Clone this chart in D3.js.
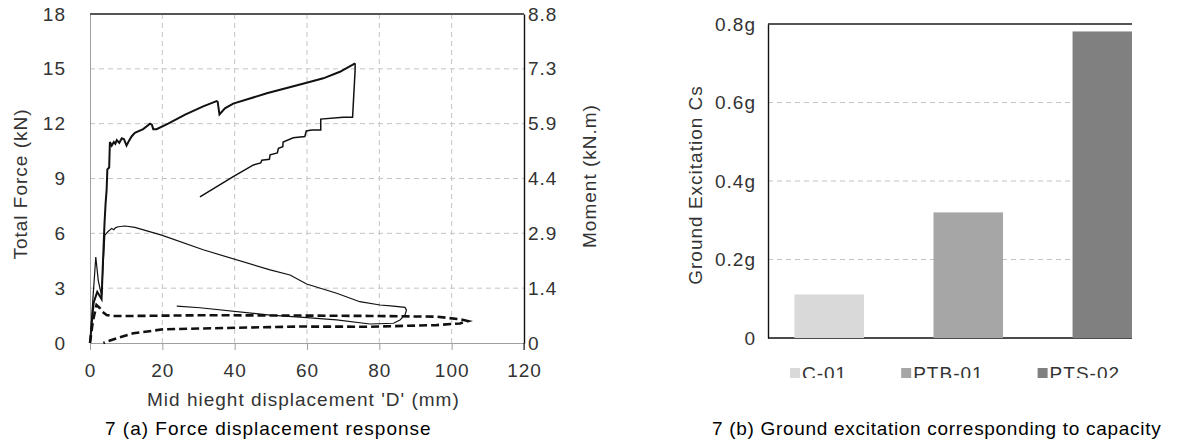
<!DOCTYPE html>
<html>
<head>
<meta charset="utf-8">
<script src="https://cdn.jsdelivr.net/npm/d3@7"></script>
<style>
    body { margin: 0; background: #fff; }
    svg { display: block; font-family: "Liberation Sans", Arial, sans-serif; }
    .lbl { font-size: 19px; letter-spacing: 1px; fill: #333; }
    .cap { font-size: 19px; letter-spacing: 1px; fill: #000; }
</style>
</head>
<body>
<svg id="chart" width="1181" height="445"></svg>
<script>
// ---- Data: 7(a) force displacement response, [displacement mm, force kN] ----
const loadingCurve = [
    [0, 0], [1.0, 2.2], [2.0, 2.8], [3.2, 2.4], [3.5, 4.0], [4.0, 6.5], [4.3, 7.6],
    [4.6, 8.4], [4.8, 9.5], [5.3, 9.6], [5.5, 11.0], [6.0, 10.8], [6.6, 11.0], [7.0, 10.9],
    [7.4, 11.1], [8.1, 10.95], [8.8, 11.2], [9.4, 11.15], [10.1, 10.8], [10.6, 11.0],
    [11.5, 11.3], [12.4, 11.5], [14.7, 11.7], [16.6, 12.0], [17.1, 11.95], [17.5, 11.7],
    [18.4, 11.7], [21.6, 12.0], [26.3, 12.5], [31.3, 12.95], [35.0, 13.24], [35.3, 13.2],
    [35.8, 12.5], [37.3, 12.84], [39.6, 13.1], [48.9, 13.66], [59.9, 14.24], [64.5, 14.48],
    [69.1, 14.84], [73.3, 15.3]
];
const unloadingCurve = [
    [73.3, 15.3], [73.3, 14.9], [72.6, 12.35], [70.0, 12.35], [63.8, 12.25], [63.8, 11.65],
    [61.3, 11.65], [59.8, 11.6], [59.4, 11.3], [56.2, 11.23], [53.4, 11.0], [53.3, 10.74],
    [52.1, 10.65], [51.8, 10.4], [49.8, 10.3], [49.6, 10.05], [47.5, 10.0], [47.2, 9.85],
    [45.2, 9.74], [39.6, 9.1], [30.4, 8.0]
];
const thinCurve = [
    [0, 0], [0.8, 2.4], [1.6, 4.7], [2.3, 3.4], [3.2, 2.6], [3.6, 4.2], [4.1, 5.9],
    [5.0, 6.1], [6.0, 6.27], [6.6, 6.2], [7.0, 6.3], [7.8, 6.36], [9.7, 6.4], [12.4, 6.33],
    [19.8, 5.9], [31.3, 5.1], [49.8, 4.0], [55.3, 3.72], [59.9, 3.23], [68.2, 2.72],
    [74.6, 2.26], [80.2, 2.08], [83.9, 2.02], [87.1, 1.95], [87.5, 1.8], [87.1, 1.53],
    [85.7, 1.26], [83.9, 1.08], [77.4, 1.04], [68.2, 1.26], [59.0, 1.4], [49.8, 1.53],
    [30.4, 1.93], [24.0, 2.02]
];
const dashedCurve = [
    [0, 0], [0.8, 1.2], [1.8, 2.08], [2.8, 1.9], [3.5, 1.7], [4.6, 1.53], [6.0, 1.48],
    [12.4, 1.48], [31.8, 1.52], [60.0, 1.5], [77.4, 1.48], [95.8, 1.44], [102.3, 1.3],
    [104.5, 1.2], [102.3, 1.07], [95.8, 0.98], [77.4, 0.89], [58.0, 0.9], [49.8, 0.87],
    [20.3, 0.75], [12.0, 0.53], [8.0, 0.3], [4.6, 0.07], [3.7, 0]
];
const forceTicks = [0, 3, 6, 9, 12, 15, 18];
const momentLabels = ["0", "1.4", "2.9", "4.4", "5.9", "7.3", "8.8"];
const dispTicks = [0, 20, 40, 60, 80, 100, 120];

// ---- Data: 7(b) ground excitation ----
const specimens = ["C-01", "PTB-01", "PTS-02"];
const excitation = [0.111, 0.32, 0.781];
const barColors = ["#d9d9d9", "#a6a6a6", "#808080"];
const excitationTicks = [0, 0.2, 0.4, 0.6, 0.8];

const svg = d3.select("#chart");

// =================== Left chart ===================
function drawForceChart() {
    const x = d3.scaleLinear().domain([0, 120]).range([90, 524]);
    const y = d3.scaleLinear().domain([0, 18]).range([343, 14]);
    const g = svg.append("g");

    // grid
    g.selectAll(".hgrid").data(forceTicks.slice(1, -1)).enter().append("line")
        .attr("x1", x(0)).attr("x2", x(120))
        .attr("y1", d => y(d)).attr("y2", d => y(d))
        .attr("stroke", "#c4c4c4").attr("stroke-dasharray", "5,4");
    g.selectAll(".vgrid").data(dispTicks.slice(1, -1)).enter().append("line")
        .attr("y1", y(0)).attr("y2", y(18))
        .attr("x1", d => x(d)).attr("x2", d => x(d))
        .attr("stroke", "#c4c4c4").attr("stroke-dasharray", "5,4");

    // bottom axis (gray, ticks pointing down)
    const xAxis = g.append("g").attr("transform", `translate(0,${y(0)})`)
        .call(d3.axisBottom(x).tickValues(dispTicks).tickSize(7).tickSizeOuter(0).tickPadding(14));
    xAxis.select(".domain").attr("stroke", "#a0a0a0");
    xAxis.selectAll(".tick line").attr("stroke", "#a0a0a0");
    xAxis.selectAll("text").attr("class", "lbl").attr("font-size", null).attr("font-family", null).attr("fill", null);

    // left axis
    const yAxis = g.append("g").attr("transform", `translate(${x(0)},0)`)
        .call(d3.axisLeft(y).tickValues(forceTicks).tickSize(0).tickPadding(24));
    yAxis.select(".domain").attr("stroke", "#a0a0a0");
    yAxis.selectAll("text").attr("class", "lbl").attr("font-size", null).attr("font-family", null).attr("fill", null);

    // right axis (moment labels)
    const rAxis = g.append("g").attr("transform", `translate(${x(120)},0)`)
        .call(d3.axisRight(y).tickValues(forceTicks).tickSize(0).tickPadding(4)
            .tickFormat((d, i) => momentLabels[i]));
    rAxis.select(".domain").attr("stroke", "#111").attr("stroke-width", 1.4);
    rAxis.selectAll("text").attr("class", "lbl").attr("font-size", null).attr("font-family", null).attr("fill", null);
    g.append("line").attr("x1", x(120)).attr("x2", x(120)).attr("y1", y(0)).attr("y2", y(0) + 7)
        .attr("stroke", "#111");

    // top border
    g.append("line").attr("x1", x(0)).attr("x2", x(120)).attr("y1", y(18)).attr("y2", y(18))
        .attr("stroke", "#555").attr("stroke-width", 2);

    // curves
    const line = d3.line().x(d => x(d[0])).y(d => y(d[1]));
    g.append("path").datum(dashedCurve).attr("d", line).attr("fill", "none")
        .attr("stroke", "#111").attr("stroke-width", 2.6).attr("stroke-dasharray", "8,4");
    g.append("path").datum(thinCurve).attr("d", line).attr("fill", "none")
        .attr("stroke", "#111").attr("stroke-width", 1.2);
    g.append("path").datum(unloadingCurve).attr("d", line).attr("fill", "none")
        .attr("stroke", "#111").attr("stroke-width", 1.5);
    g.append("path").datum(loadingCurve).attr("d", line).attr("fill", "none")
        .attr("stroke", "#111").attr("stroke-width", 2);

    // titles
    g.append("text").attr("class", "lbl").attr("text-anchor", "middle")
        .attr("transform", "translate(27,184) rotate(-90)").text("Total Force (kN)");
    g.append("text").attr("class", "lbl").attr("text-anchor", "middle")
        .attr("transform", "translate(596,176) rotate(-90)").text("Moment (kN.m)");
    g.append("text").attr("class", "lbl").attr("x", 147).attr("y", 406)
        .text("Mid hieght displacement 'D' (mm)");
    g.append("text").attr("class", "cap").attr("x", 105).attr("y", 435)
        .text("7 (a) Force displacement response");
}

// =================== Right chart ===================
function drawExcitationChart() {
    const left = 768, right = 1132;
    const y = d3.scaleLinear().domain([0, 0.8]).range([338, 24]);
    const x = d3.scaleBand().domain(specimens).range([left, 1168.5])
        .paddingInner(0.5).paddingOuter(0.19);
    const g = svg.append("g");

    svg.append("defs").append("clipPath").attr("id", "plotClip")
        .append("rect").attr("x", left).attr("y", 0).attr("width", right - left).attr("height", 445);
    svg.select("defs").append("clipPath").attr("id", "legendClip")
        .append("rect").attr("x", 700).attr("y", 355).attr("width", 480).attr("height", 23);

    // grid
    g.selectAll(".grid").data(excitationTicks.slice(1, -1)).enter().append("line")
        .attr("x1", left).attr("x2", right)
        .attr("y1", d => y(d)).attr("y2", d => y(d))
        .attr("stroke", "#c4c4c4").attr("stroke-dasharray", "5,4");

    // axis lines
    g.append("line").attr("x1", left).attr("x2", right).attr("y1", y(0)).attr("y2", y(0))
        .attr("stroke", "#111").attr("stroke-width", 1.4);
    g.append("line").attr("x1", left).attr("x2", right).attr("y1", y(0.8)).attr("y2", y(0.8))
        .attr("stroke", "#555").attr("stroke-width", 2);

    // bars
    g.append("g").attr("clip-path", "url(#plotClip)")
        .selectAll("rect").data(specimens).enter().append("rect")
        .attr("x", d => x(d)).attr("width", x.bandwidth())
        .attr("y", (d, i) => y(excitation[i]))
        .attr("height", (d, i) => y(0) - y(excitation[i]))
        .attr("fill", (d, i) => barColors[i]);

    const yAxis = g.append("g").attr("transform", `translate(${left},0)`)
        .call(d3.axisLeft(y).tickValues(excitationTicks).tickSize(0).tickPadding(12)
            .tickFormat(d => d === 0 ? "0" : d + "g"));
    yAxis.select(".domain").attr("stroke", "#111").attr("stroke-width", 1.4);
    yAxis.selectAll("text").attr("class", "lbl").attr("font-size", null).attr("font-family", null).attr("fill", null);

    // legend (cut off at the bottom like the source)
    const legend = g.append("g").attr("clip-path", "url(#legendClip)");
    let lx = 790;
    specimens.forEach((s, i) => {
        legend.append("rect").attr("x", lx).attr("y", 368).attr("width", 10).attr("height", 10)
            .attr("fill", barColors[i]);
        const t = legend.append("text").attr("class", "lbl").attr("x", lx + 12).attr("y", 380).text(s);
        lx += 12 + t.node().getComputedTextLength() + 54;
    });

    g.append("text").attr("class", "lbl").attr("text-anchor", "middle")
        .attr("transform", "translate(702,185) rotate(-90)").text("Ground Excitation Cs");
    g.append("text").attr("class", "cap").attr("x", 712).attr("y", 435)
        .style("letter-spacing", "0.7px")
        .text("7 (b) Ground excitation corresponding to capacity");
}

drawForceChart();
drawExcitationChart();
</script>
</body>
</html>
